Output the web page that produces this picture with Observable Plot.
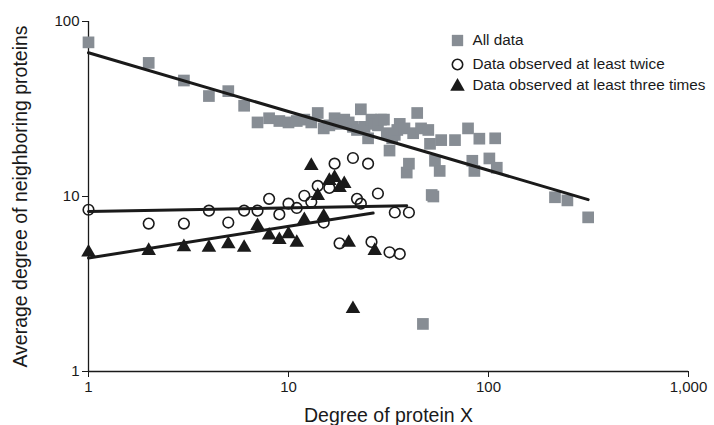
<!DOCTYPE html>
<html>
<head>
<meta charset="utf-8">
<script src="https://cdn.jsdelivr.net/npm/d3@7"></script>
<script src="https://cdn.jsdelivr.net/npm/@observablehq/plot@0.6"></script>
<style>
  html, body { margin: 0; padding: 0; background: #fff; }
</style>
</head>
<body>
<div id="chart"></div>
<script>
// ---- Data ----
const allDegree = [1,2,3,4,5,6,7,8,9,10,11,12,13,14,15,16,17,18,19,20,21,22,23,24,25,26,27,28,29,30,31,32,33,34,35,36,38,39,40,42,44,46,47,50,51,52,53,54,57,58,68,79,83,85,90,101,108,110,215,248,315];
const allAvg    = [76,58,46,37.5,40,33,26.5,28,27,26.5,27,27.5,26.5,30,24.5,25.5,28,26,27.5,26.5,25,24,31.5,25,21.5,27.5,26,25.5,27.5,27.5,23,18.3,21.5,22.5,24,26,24.5,13.7,15.4,23,30,24.5,1.87,24,20,10.2,10,16,14,21,21,24.5,16,14,21.4,16.5,21.5,14.6,9.9,9.5,7.6];

const twiceDegree = [1,2,3,4,5,6,7,8,9,10,11,12,13,14,15,16,17,18,21,22,23,25,26,28,32,34,36,40];
const twiceAvg    = [8.4,7.0,7.0,8.3,7.1,8.3,8.3,9.7,7.9,9.1,8.6,10.1,9.3,11.5,7.1,11.2,15.4,5.4,16.6,9.7,9.1,15.4,5.5,10.4,4.8,8.1,4.7,8.1];

const threeDegree = [1,2,3,4,5,6,7,8,9,10,11,12,13,14,15,16,17,18,19,20,21,27];
const threeAvg    = [4.8,4.9,5.15,5.1,5.35,5.1,6.8,6.0,5.65,6.1,5.45,7.35,15.0,10.1,7.7,12.3,12.8,11.2,11.8,5.45,2.28,4.9];

// power-law fit lines (end points)
const allFitX = [1, 315],    allFitY = [66.3, 9.6];
const twiceFitX = [1, 39],   twiceFitY = [8.2, 8.85];
const threeFitX = [1, 26.5], threeFitY = [4.45, 8.05];

const xTicks = [1, 10, 100, 1000];
const yTicks = [1, 10, 100];

const seriesNames = ["All data", "Data observed at least twice", "Data observed at least three times"];
const xLabel = "Degree of protein X";
const yLabel = "Average degree of neighboring proteins";

// ---- Build tables ----
const zip = (xs, ys) => xs.map((x, i) => ({x, y: ys[i]}));
const allData = zip(allDegree, allAvg);
const twiceData = zip(twiceDegree, twiceAvg);
const threeData = zip(threeDegree, threeAvg);
const allFit = zip(allFitX, allFitY);
const twiceFit = zip(twiceFitX, twiceFitY);
const threeFit = zip(threeFitX, threeFitY);

const gray = "#878d94";
const ink = "#1a1a1a";

const legendDots = [
  {symbol: "square", fill: gray, stroke: "none", r: 6.4},
  {symbol: "circle", fill: "none", stroke: ink, r: 5.2},
  {symbol: "triangle", fill: ink, stroke: "none", r: 5.4}
];
const legendDy = [19, 43, 65];
const legendTextDy = [19, 43, 64];

const chart = Plot.plot({
  width: 714,
  height: 425,
  marginLeft: 88,
  marginRight: 26,
  marginTop: 21,
  marginBottom: 54,
  x: {type: "log", domain: [1, 1000]},
  y: {type: "log", domain: [1, 100]},
  style: {fontFamily: "'Liberation Sans', Arial, Helvetica, sans-serif", fontSize: "15px", color: ink, background: "#fff"},
  marks: [
    Plot.axisX({ticks: xTicks, tickFormat: d3.format(","), tickSize: 6, tickPadding: 4, label: null, fontSize: 15}),
    Plot.axisY({ticks: yTicks, tickFormat: d3.format("d"), tickSize: 6, tickPadding: 3, label: null, fontSize: 15}),
    Plot.ruleX([1], {stroke: ink, strokeWidth: 1.3}),
    Plot.ruleY([1], {stroke: ink, strokeWidth: 1.3}),
    Plot.dot(allData, {x: "x", y: "y", symbol: "square", fill: gray, r: 6.6}),
    Plot.dot(threeData, {x: "x", y: "y", symbol: "triangle", fill: ink, r: 5.4}),
    Plot.dot(twiceData, {x: "x", y: "y", symbol: "circle", fill: "none", stroke: ink, strokeWidth: 1.6, r: 5.3}),
    Plot.line(allFit, {x: "x", y: "y", stroke: ink, strokeWidth: 3}),
    Plot.line(twiceFit, {x: "x", y: "y", stroke: ink, strokeWidth: 3}),
    Plot.line(threeFit, {x: "x", y: "y", stroke: ink, strokeWidth: 3}),
    // legend
    ...legendDots.map((d, i) => Plot.dot([seriesNames[i]], {x: null, y: null, frameAnchor: "top-left", dx: 369, dy: legendDy[i], symbol: d.symbol, fill: d.fill, stroke: d.stroke, strokeWidth: 1.6, r: d.r})),
    ...seriesNames.map((name, i) => Plot.text([name], {frameAnchor: "top-left", dx: 384, dy: legendTextDy[i], textAnchor: "start", lineAnchor: "middle", fontSize: 15.3, fill: ink})),
    // axis titles
    Plot.text([xLabel], {frameAnchor: "bottom", dy: 44, textAnchor: "middle", lineAnchor: "middle", fontSize: 19.5, fill: ink}),
    Plot.text([yLabel], {frameAnchor: "left", rotate: -90, dx: -68, textAnchor: "middle", lineAnchor: "middle", fontSize: 19.5, fill: ink})
  ]
});

document.getElementById("chart").appendChild(chart);
</script>
</body>
</html>
